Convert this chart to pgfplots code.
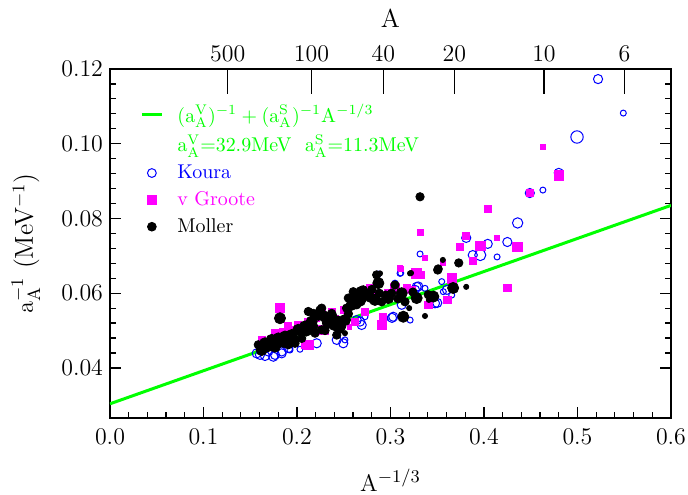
\documentclass[border=0pt]{standalone}
\usepackage{pgfplots}
\usepackage{pgfplotstable}
\pgfplotsset{compat=1.18}
\definecolor{mgt}{RGB}{255,0,255}
\definecolor{grn}{RGB}{0,255,0}
\definecolor{blu}{RGB}{0,0,255}
\pgfplotsset{
  mylinelegend/.style={legend image code/.code={\draw[##1] (0bp,0bp) -- (10bp,0bp);}},
  mymarklegend/.style={legend image code/.code={\draw[##1] plot coordinates {(5bp,0bp)};}},
  sizedmarks/.style={
    visualization depends on={\thisrow{s} \as \perpointmarksize},
    scatter/@pre marker code/.append style={/tikz/mark size=\perpointmarksize}},
}
% Koura (open circles), columns: x y radius
\pgfplotstableread{
x y s
0.1569 0.0439 2.3
0.1604 0.0435 2.3
0.1658 0.0432 2.3
0.1693 0.0444 2.3
0.1747 0.0430 2.3
0.1765 0.0435 2.3
0.1836 0.0444 2.3
0.1836 0.0439 2.3
0.1907 0.0453 2.3
0.1925 0.0448 1.5
0.2032 0.0450 1.5
0.2211 0.0466 2.3
0.2425 0.0475 2.3
0.2495 0.0466 2.3
0.2513 0.0475 1.5
0.2639 0.0528 2.3
0.2674 0.0524 2.3
0.2692 0.0515 2.3
0.2727 0.0537 1.5
0.2870 0.0651 1.5
0.2941 0.0533 1.5
0.3016 0.0534 2.3
0.3030 0.0537 2.3
0.3048 0.0627 1.5
0.3102 0.0653 1.5
0.3110 0.0654 1.5
0.3120 0.0569 2.3
0.3210 0.0528 1.5
0.3262 0.0609 2.3
0.3280 0.0617 2.3
0.3297 0.0618 2.3
0.3316 0.0705 1.5
0.3369 0.0613 1.5
0.3476 0.0573 2.3
0.3500 0.0574 2.3
0.3548 0.0631 1.5
0.3565 0.0604 1.5
0.3604 0.0609 2.3
0.3655 0.0595 1.5
0.3810 0.0748 2.3
0.3880 0.0702 2.3
0.3960 0.0702 2.8
0.4040 0.0732 2.3
0.4140 0.0697 1.5
0.4250 0.0737 2.3
0.4360 0.0788 2.6
0.4490 0.0868 2.3
0.4630 0.0876 1.5
0.4800 0.0922 2.3
0.4995 0.1018 3.1
0.5220 0.1173 2.3
0.5490 0.1082 1.5
}\koura
% v Groote (filled squares), columns: x y half side
\pgfplotstableread{
x y s
0.1622 0.0475 1.8
0.1690 0.0470 1.8
0.1765 0.0493 1.8
0.1818 0.0561 2.4
0.1850 0.0495 1.8
0.1907 0.0511 1.8
0.1960 0.0505 1.2
0.2014 0.0515 1.8
0.2050 0.0510 1.8
0.2086 0.0462 1.8
0.2121 0.0524 1.8
0.2121 0.0462 2.4
0.2200 0.0535 1.8
0.2264 0.0546 1.8
0.2281 0.0502 2.4
0.2300 0.0525 1.2
0.2371 0.0551 1.8
0.2400 0.0530 1.8
0.2500 0.0555 1.8
0.2560 0.0510 1.2
0.2620 0.0524 1.8
0.2650 0.0580 1.2
0.2727 0.0551 1.8
0.2781 0.0613 1.8
0.2840 0.0600 1.2
0.2906 0.0515 2.4
0.2923 0.0537 1.8
0.2976 0.0600 1.8
0.3048 0.0613 2.4
0.3102 0.0667 1.2
0.3110 0.0665 1.2
0.3173 0.0613 1.8
0.3227 0.0609 1.8
0.3280 0.0653 2.4
0.3320 0.0649 1.8
0.3320 0.0764 1.5
0.3369 0.0694 1.2
0.3404 0.0569 1.8
0.3410 0.0569 1.8
0.3560 0.0681 1.2
0.3601 0.0582 1.8
0.3610 0.0582 1.8
0.3655 0.0640 2.4
0.3740 0.0724 1.8
0.3810 0.0753 1.8
0.3880 0.0686 1.8
0.3960 0.0727 2.4
0.4040 0.0825 1.8
0.4140 0.0748 1.2
0.4250 0.0614 1.8
0.4360 0.0724 2.4
0.4490 0.0868 1.8
0.4630 0.0991 1.2
0.4800 0.0916 2.4
}\groote
% Moller (filled circles), columns: x y radius
\pgfplotstableread{
x y s
0.1586 0.0462 2.1
0.1622 0.0448 2.8
0.1650 0.0455 2.8
0.1658 0.0466 2.8
0.1693 0.0455 2.1
0.1729 0.0475 2.8
0.1765 0.0457 2.8
0.1800 0.0479 2.8
0.1818 0.0533 2.8
0.1850 0.0470 2.8
0.1872 0.0484 2.8
0.1872 0.0466 2.1
0.1907 0.0462 2.1
0.1943 0.0488 2.8
0.1960 0.0475 2.8
0.1979 0.0466 2.1
0.2014 0.0502 2.8
0.2050 0.0479 2.1
0.2086 0.0511 2.8
0.2100 0.0500 2.8
0.2121 0.0551 2.1
0.2157 0.0524 2.8
0.2174 0.0546 2.1
0.2180 0.0510 2.1
0.2193 0.0493 2.1
0.2228 0.0542 2.8
0.2246 0.0555 2.1
0.2264 0.0560 2.1
0.2264 0.0502 2.1
0.2299 0.0537 2.8
0.2300 0.0500 2.1
0.2330 0.0520 2.8
0.2371 0.0537 2.8
0.2371 0.0546 2.1
0.2400 0.0515 2.8
0.2425 0.0488 2.1
0.2442 0.0506 2.1
0.2442 0.0524 2.8
0.2470 0.0500 1.3
0.2478 0.0511 2.1
0.2513 0.0528 2.8
0.2513 0.0493 1.3
0.2530 0.0560 2.1
0.2549 0.0587 2.1
0.2550 0.0545 2.1
0.2585 0.0569 2.8
0.2602 0.0604 2.1
0.2620 0.0595 2.8
0.2639 0.0569 2.1
0.2674 0.0580 2.8
0.2692 0.0604 2.8
0.2700 0.0585 2.1
0.2709 0.0609 2.1
0.2745 0.0600 2.1
0.2763 0.0595 2.8
0.2781 0.0587 2.1
0.2800 0.0610 2.1
0.2834 0.0582 2.8
0.2852 0.0649 2.1
0.2870 0.0627 2.8
0.2880 0.0600 2.1
0.2888 0.0653 1.3
0.2906 0.0577 2.1
0.2950 0.0595 2.1
0.2976 0.0587 2.8
0.3013 0.0600 2.1
0.3048 0.0622 2.1
0.3080 0.0585 2.1
0.3120 0.0600 2.8
0.3137 0.0537 2.8
0.3155 0.0577 2.1
0.3200 0.0560 1.3
0.3209 0.0653 1.3
0.3220 0.0654 1.3
0.3240 0.0603 2.1
0.3280 0.0587 2.8
0.3316 0.0858 2.1
0.3369 0.0539 1.3
0.3404 0.0596 2.1
0.3410 0.0582 1.3
0.3458 0.0591 2.8
0.3505 0.0662 2.1
0.3510 0.0665 2.1
0.3560 0.0689 1.3
0.3670 0.0614 2.8
0.3730 0.0681 2.1
0.3810 0.0617 1.3
}\moller
\begin{document}
\begin{tikzpicture}
\begin{axis}[
  scale only axis, width=280.5bp, height=174.5bp,
  xmin=0, xmax=0.6, ymin=0.0266, ymax=0.12,
  xtick={0,0.1,0.2,0.3,0.4,0.5,0.6},
  ytick={0.04,0.06,0.08,0.10,0.12},
  minor x tick num=4, minor y tick num=4,
  xtick pos=bottom, ytick pos=both,
  tick align=inside,
  major tick length=5.7bp, minor tick length=3bp,
  scaled x ticks=false, scaled y ticks=false,
  ticklabel style={font=\large},
  xticklabel style={yshift=-2bp, /pgf/number format/.cd, fixed, fixed zerofill, precision=1},
  yticklabel style={/pgf/number format/.cd, fixed, fixed zerofill, precision=2},
  axis line style={line width=0.9bp},
  every tick/.style={black, line width=0.6bp},
  xlabel={$\mathrm{A}^{-1/3}$},
  ylabel={$\mathrm{a}_{\mathrm{A}}^{-1}$ (MeV$^{-1}$)},
  label style={font=\fontsize{13}{15}\selectfont},
  xlabel style={at={(axis description cs:0.5,-0.178)}, anchor=center},
  ylabel style={at={(axis description cs:-0.150,0.5)}, anchor=center},
  legend style={draw=none, fill=none, at={(axis description cs:0,1)}, anchor=north west,
    xshift=12bp, yshift=-13.5bp, cells={anchor=west}, row sep=1bp,
    /tikz/every odd column/.append style={column sep=5bp}},
]
\addlegendimage{mylinelegend, grn, line width=1.5bp}
\addlegendentry{\textcolor{grn}{$(\mathrm{a}_{\mathrm{A}}^{\mathrm{V}})^{-1}+(\mathrm{a}_{\mathrm{A}}^{\mathrm{S}})^{-1}\mathrm{A}^{-1/3}$}}
\addlegendimage{empty legend}
\addlegendentry{\textcolor{grn}{$\mathrm{a}_{\mathrm{A}}^{\mathrm{V}}$=32.9MeV\ \ $\mathrm{a}_{\mathrm{A}}^{\mathrm{S}}$=11.3MeV}}
\addlegendimage{only marks, mark=o, blu, mark size=2.2bp, line width=0.5bp, mymarklegend}
\addlegendentry{\textcolor{blu}{Koura}}
\addlegendimage{only marks, mark=square*, mgt, mark size=2.2bp, mymarklegend}
\addlegendentry{\textcolor{mgt}{v Groote}}
\addlegendimage{only marks, mark=*, black, mark size=2.2bp, mymarklegend}
\addlegendentry{Moller}

\addplot[scatter, only marks, mark=o, line width=0.5bp, scatter/use mapped color={draw=blu, fill=blu}, sizedmarks, forget plot] table[x=x, y=y] {\koura};
\addplot[scatter, only marks, mark=square*, scatter/use mapped color={draw=mgt, fill=mgt}, sizedmarks, forget plot] table[x=x, y=y] {\groote};
\addplot[scatter, only marks, mark=*, scatter/use mapped color={draw=black, fill=black}, sizedmarks, forget plot] table[x=x, y=y] {\moller};
\addplot[grn, line width=1.5bp, forget plot] coordinates {(0,0.0304) (0.6,0.0835)};
\end{axis}
\begin{axis}[
  scale only axis, width=280.5bp, height=174.5bp,
  xmin=0, xmax=0.6, ymin=0.0266, ymax=0.12,
  hide y axis,
  axis x line*=top,
  xtick={0.12599,0.21544,0.29240,0.36840,0.46416,0.55032},
  xticklabels={500,100,40,20,10,6},
  ticklabel style={font=\large},
  tick align=inside,
  major tick length=12.5bp,
  every tick/.style={black, line width=0.6bp},
  axis line style={line width=0.9bp},
  xlabel={A},
  label style={font=\fontsize{13}{15}\selectfont},
  xlabel style={at={(axis description cs:0.5,1.146)}, anchor=center},
]
\end{axis}
\pgfresetboundingbox
\path (-55bp,-38.5bp) rectangle (289bp,209bp);
\end{tikzpicture}
\end{document}
